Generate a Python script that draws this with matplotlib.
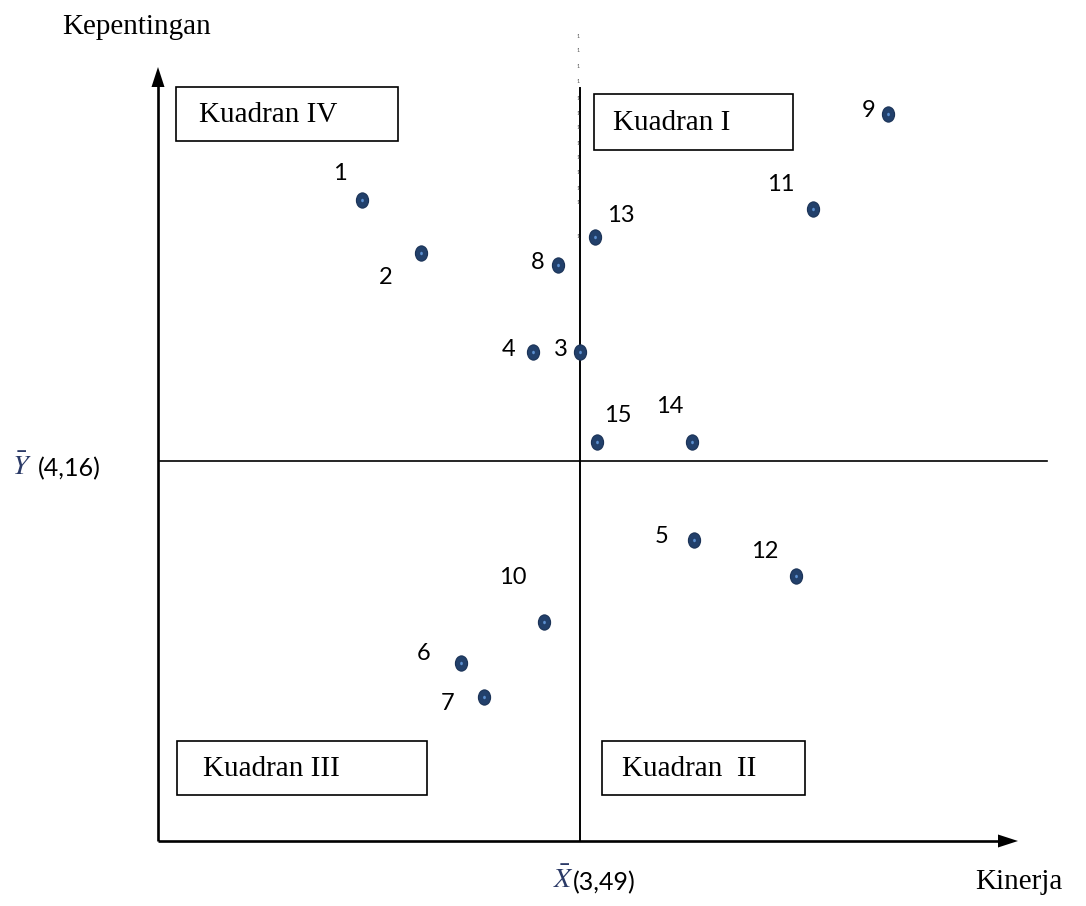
import matplotlib
matplotlib.use("Agg")
import matplotlib.pyplot as plt
from matplotlib.patches import Rectangle
from matplotlib.path import Path
from matplotlib.transforms import Affine2D

# ---- data (Kinerja = x, Kepentingan = y) ----
labels = ["1", "2", "3", "4", "5", "6", "7", "8", "9", "10", "11", "12", "13", "14", "15"]
kinerja = [3.272, 3.331, 3.490, 3.443, 3.604, 3.371, 3.394, 3.468, 3.798, 3.454, 3.723, 3.706, 3.505, 3.602, 3.507]
kepentingan = [4.421, 4.368, 4.269, 4.269, 4.081, 3.958, 3.924, 4.356, 4.507, 3.999, 4.412, 4.045, 4.384, 4.179, 4.179]
x_mean = 3.49
y_mean = 4.16
x_mean_label = "(3,49)"
y_mean_label = "(4,16)"
quadrant_names = ["Kuadran I", "Kuadran  II", "Kuadran III", "Kuadran IV"]
x_title = "Kinerja"
y_title = "Kepentingan"

# label offsets in pixels (dx, dy; dy positive = up)
label_off = [(-22, 26), (-35, -25), (-19, 2), (-24, 2), (-32, 3), (-37, 9), (-36, -7), (-20, 3),
             (-19, 4), (-31, 44), (-32, 25), (-31, 25), (26, 21), (-22, 35), (21, 26)]

W, H = 1086, 906
fig = plt.figure(figsize=(W / 100, H / 100), dpi=100)
ax = fig.add_axes([0, 0, 1, 1])
K = 1000.0
PX0, PY0 = 580, 461
ax.set_xlim(x_mean - PX0 / K, x_mean + (W - PX0) / K)
ax.set_ylim(y_mean - (H - PY0) / K, y_mean + PY0 / K)
ax.axis("off")


def P(px, py):
    return x_mean + (px - PX0) / K, y_mean + (PY0 - py) / K


serif = "Liberation Serif"
sans = "Lato"

# main axes with arrows
ox, oy = P(158, 841)
tx, ty = P(158, 67)
rx, ry = P(1018, 841)
ax.plot([ox, ox], [oy, P(0, 86)[1]], color="black", lw=1.9, solid_capstyle="butt")
ax.plot([ox, P(1000, 0)[0]], [oy, oy], color="black", lw=1.9, solid_capstyle="butt")
ax.fill([tx - 6.5 / K, tx + 6.5 / K, tx], [ty - 20 / K, ty - 20 / K, ty], color="black", lw=0)
ax.fill([rx - 20 / K, rx - 20 / K, rx], [ry + 6.5 / K, ry - 6.5 / K, ry], color="black", lw=0)

# mean lines
ax.plot([P(160, 0)[0], P(1047, 0)[0]], [y_mean, y_mean], color="black", lw=1.2)
ax.plot([x_mean, x_mean], [P(0, 88)[1], oy], color="black", lw=1.4)

# tiny "1" artefacts along the vertical line
for py in [36, 51, 66, 81, 99, 113, 128, 143, 158, 173, 188, 203, 237]:
    xx, yy = P(578, py)
    ax.text(xx, yy, "1", fontsize=4, family=sans, ha="center", va="center", color="#555555")

# quadrant boxes
boxes = {"Kuadran IV": (176, 87, 398, 141), "Kuadran I": (594, 94, 793, 150),
         "Kuadran III": (177, 741, 427, 795), "Kuadran  II": (602, 741, 805, 795)}
text_x = {"Kuadran IV": 199, "Kuadran I": 613, "Kuadran III": 203, "Kuadran  II": 622}
for name in quadrant_names:
    x0, y0, x1, y1 = boxes[name]
    a0 = P(x0, y1)
    a1 = P(x1, y0)
    ax.add_patch(Rectangle(a0, a1[0] - a0[0], a1[1] - a0[1], fill=False, ec="black", lw=1.2))
    tx_, ty_ = P(text_x[name], (y0 + y1) / 2 + 1)
    ax.text(tx_, ty_, name, fontsize=21, family=serif, ha="left", va="center")

# points (slightly tall ellipses)
circ = Path.unit_circle()
ell = Path(Affine2D().scale(0.8, 1.0).transform(circ.vertices), circ.codes)
ax.scatter(kinerja, kepentingan, s=120, marker=ell, color="#22406b", edgecolor="#1b3357", lw=0.8, zorder=5)
ax.scatter(kinerja, kepentingan, s=6, marker=ell, color="#5b8fd0", lw=0, zorder=6)
for lab, x, y, off in zip(labels, kinerja, kepentingan, label_off):
    ax.annotate(lab, (x, y), xytext=off, textcoords="offset pixels", fontsize=17,
                family=sans, ha="center", va="center")

# axis titles
ax.text(*P(62, 27), y_title, fontsize=21, family=serif, ha="left", va="center")
ax.text(*P(975, 882), x_title, fontsize=21, family=serif, ha="left", va="center")

# mean labels
ax.text(*P(563, 880), r"$\bar{X}$", fontsize=20, color="#2b3a67", ha="center", va="center",
        math_fontfamily="stix")
ax.text(*P(573, 883), x_mean_label, fontsize=18, family=sans, ha="left", va="center")
ax.text(*P(22, 467), r"$\bar{Y}$", fontsize=20, color="#2b3a67", ha="center", va="center",
        math_fontfamily="stix")
ax.text(*P(38, 469), y_mean_label, fontsize=18, family=sans, ha="left", va="center")

fig.savefig("out.png", dpi=100, facecolor="white")
